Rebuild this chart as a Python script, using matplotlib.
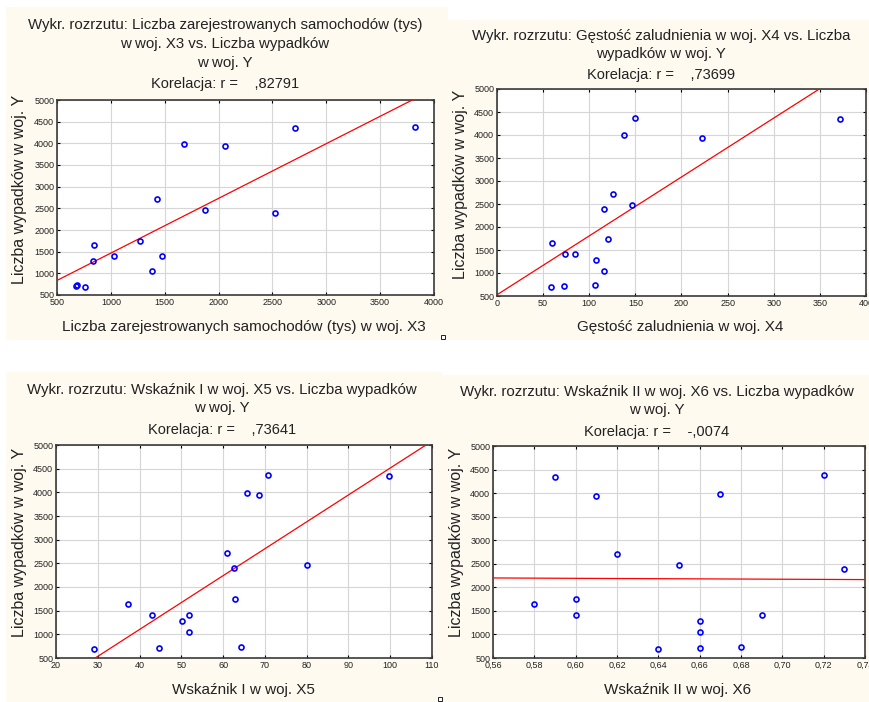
import numpy as np
import matplotlib.pyplot as plt
from matplotlib.patches import Rectangle
from matplotlib.ticker import FuncFormatter

# ── Dane: 16 województw ─────────────────────────────────────
wypadki_y = [690, 715, 735, 1050, 1285, 1410, 1410, 1650, 1745, 2395, 2470, 2710, 3940, 3990, 4345, 4375]
samochody_x3 = [757, 673, 686, 1383, 834, 1479, 1030, 844, 1274, 2522, 1875, 1426, 2058, 1683, 2714, 3820]
gestosc_x4 = [58, 73, 106, 116, 107, 85, 74, 60, 120, 116, 146, 126, 222, 138, 372, 150]
wskaznik1_x5 = [29.1, 44.7, 64.2, 51.9, 50.2, 51.9, 43.0, 37.3, 62.8, 62.6, 80.1, 61.0, 68.6, 65.8, 99.8, 70.8]
wskaznik2_x6 = [0.64, 0.66, 0.68, 0.66, 0.66, 0.60, 0.69, 0.58, 0.60, 0.73, 0.65, 0.62, 0.61, 0.67, 0.59, 0.72]

korelacje = [",82791", ",73699", ",73641", "-,0074"]

W, H = 870, 702
KREM = "#fefaf0"
plt.rcParams["font.family"] = ["Liberation Sans", "DejaVu Sans"]

fig = plt.figure(figsize=(W / 100, H / 100), dpi=100)
fig.patch.set_facecolor("white")


def px_box(x0, y0, x1, y1):
    """Zamienia prostokąt w pikselach (od góry) na współrzędne figury."""
    return [x0 / W, 1 - y1 / H, (x1 - x0) / W, (y1 - y0) / H]


def fx(x):
    return x / W


def fy(y):
    return 1 - y / H


# tła paneli (kremowe)
for x0, y0, x1, y1 in [(6, 7, 448, 340), (448, 20, 870, 340), (6, 372, 442, 702), (442, 375, 870, 702)]:
    fig.patches.append(Rectangle((fx(x0), fy(y1)), (x1 - x0) / W, (y1 - y0) / H,
                                 transform=fig.transFigure, facecolor=KREM, edgecolor="none", zorder=-5))

panele = [
    dict(x=samochody_x3, box=(57, 100, 434, 295), xlim=(500, 4000), xt=np.arange(500, 4001, 500),
         tytul=["Wykr. rozrzutu: Liczba zarejestrowanych samochodów (tys)",
                "w woj. X3 vs. Liczba wypadków", "w woj. Y"],
         t_x=225, t_y=[25, 44, 63], kor_y=84,
         xlab="Liczba zarejestrowanych samochodów (tys) w woj. X3", xl_xy=(244, 327), yl_xy=(20, 189), fmt=None),
    dict(x=gestosc_x4, box=(497, 89, 866, 296), xlim=(0, 400), xt=np.arange(0, 401, 50),
         tytul=["Wykr. rozrzutu: Gęstość zaludnienia w woj. X4 vs. Liczba", "wypadków w woj. Y"],
         t_x=661, t_y=[36, 54], kor_y=75,
         xlab="Gęstość zaludnienia w woj. X4", xl_xy=(680, 327), yl_xy=(461, 184), fmt=None),
    dict(x=wskaznik1_x5, box=(56, 445, 432, 658), xlim=(20, 110), xt=np.arange(20, 111, 10),
         tytul=["Wykr. rozrzutu: Wskaźnik I w woj. X5 vs. Liczba wypadków", "w woj. Y"],
         t_x=222, t_y=[390, 408], kor_y=430,
         xlab="Wskaźnik I w woj. X5", xl_xy=(243, 690), yl_xy=(20, 542), fmt=None),
    dict(x=wskaznik2_x6, box=(493, 446, 865, 658), xlim=(0.56, 0.74), xt=np.linspace(0.56, 0.74, 10),
         tytul=["Wykr. rozrzutu: Wskaźnik II w woj. X6 vs. Liczba wypadków", "w woj. Y"],
         t_x=657, t_y=[392, 410], kor_y=432,
         xlab="Wskaźnik II w woj. X6", xl_xy=(678, 690), yl_xy=(457, 542), fmt="comma"),
]

y = np.array(wypadki_y, dtype=float)

for p, r_txt in zip(panele, korelacje):
    ax = fig.add_axes(px_box(*p["box"]))
    x = np.array(p["x"], dtype=float)

    # linia regresji liczona z danych
    a, b = np.polyfit(x, y, 1)
    xs = np.array(p["xlim"])
    ax.plot(xs, a * xs + b, color="#ff0000", lw=0.9, zorder=3)
    ax.plot(x, y, "o", mfc="none", mec="#0000ff", ms=3.6, mew=1.2, zorder=4, clip_on=False)

    ax.set_xlim(*p["xlim"])
    ax.set_ylim(500, 5000)
    ax.set_xticks(p["xt"])
    ax.set_yticks(np.arange(500, 5001, 500))
    if p["fmt"] == "comma":
        ax.xaxis.set_major_formatter(FuncFormatter(lambda v, _: f"{v:.2f}".replace(".", ",")))
    ax.grid(True, color="#d6d6d6", lw=0.8)
    ax.set_axisbelow(True)
    ax.tick_params(direction="in", length=2.5, width=0.8, top=True, right=True,
                   labelsize=6.5, labelcolor="#222222", pad=2)
    for s in ax.spines.values():
        s.set_color("#3a3a3a")
        s.set_linewidth(1.2)

    for linia, ly in zip(p["tytul"], p["t_y"]):
        fig.text(fx(p["t_x"]), fy(ly), linia, ha="center", va="center", fontsize=10.8, color="#222222")
    fig.text(fx(p["t_x"]), fy(p["kor_y"]), f"Korelacja: r =    {r_txt}", ha="center", va="center",
             fontsize=10.5, color="#222222")
    fig.text(fx(p["xl_xy"][0]), fy(p["xl_xy"][1]), p["xlab"], ha="center", va="center",
             fontsize=11, color="#222222")
    fig.text(fx(p["yl_xy"][0]), fy(p["yl_xy"][1]), "Liczba wypadków w woj. Y", ha="center",
             va="center", rotation=90, fontsize=11.5, color="#222222")

# drobne kwadraciki w rogach (artefakty eksportu)
for sx, sy in [(443, 337), (440, 699)]:
    fig.patches.append(Rectangle((fx(sx - 2), fy(sy + 2)), 4 / W, 4 / H, transform=fig.transFigure,
                                 facecolor="white", edgecolor="#222222", lw=0.7, zorder=5))

fig.savefig("out.png", dpi=100, facecolor="white")
